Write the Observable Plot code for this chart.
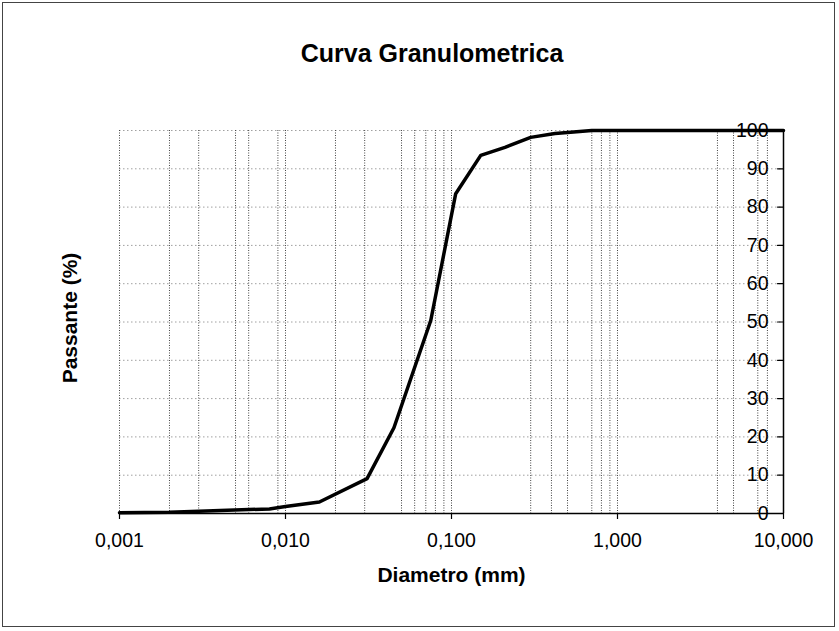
<!DOCTYPE html>
<html>
<head>
<meta charset="utf-8">
<script src="https://cdn.jsdelivr.net/npm/d3@7"></script>
<script src="https://cdn.jsdelivr.net/npm/@observablehq/plot@0.6"></script>
<style>
  html, body { margin: 0; padding: 0; background: #fff; }
  #wrap { position: relative; width: 839px; height: 631px; overflow: hidden; font-family: "Liberation Sans", Arial, sans-serif; }
  #border { position: absolute; left: 2px; top: 2px; width: 833px; height: 625px; border: 1px solid #444; box-sizing: border-box; pointer-events: none; }
  #title { position: absolute; left: 0; width: 864px; top: 39px; text-align: center; font-weight: bold; font-size: 25px; color: #000; }
  #chart { position: absolute; left: 0; top: 0; }
</style>
</head>
<body>
<div id="wrap">
  <div id="chart"></div>
  <div id="title">Curva Granulometrica</div>
  <div id="border"></div>
</div>
<script>
// Data
const diameter = [0.001, 0.002, 0.003, 0.008, 0.01, 0.016, 0.031, 0.045, 0.075, 0.106, 0.15, 0.21, 0.3, 0.42, 0.5, 0.7, 10];
const passing  = [0.2,   0.3,   0.6,   1.2,   1.8,  3.0,   9.1,   22.4,  50.4,  83.5,  93.5, 95.6, 98.2, 99.2, 99.5, 100, 100];

const xDomain = [0.001, 10];
const yDomain = [0, 100];
const xTicks = [0.001, 0.01, 0.1, 1, 10];
const xTickLabels = ["0,001", "0,010", "0,100", "1,000", "10,000"];
const yTicks = [0, 10, 20, 30, 40, 50, 60, 70, 80, 90, 100];
const xGridVisible = [0.001, 0.002, 0.003, 0.005, 0.006, 0.009, 0.01, 0.02, 0.03, 0.05, 0.06, 0.07, 0.08, 0.09, 0.1, 0.3, 0.4, 0.5, 0.7, 0.8, 0.9, 1, 4, 5, 7, 8];
const yGrid = [10, 20, 30, 40, 50, 60, 70, 80, 90, 100];

const xLabel = "Diametro (mm)";
const yLabel = "Passante (%)";

const data = diameter.map((d, i) => ({d, p: passing[i]}));
const labelOf = new Map(xTicks.map((t, i) => [t, xTickLabels[i]]));

const chart = Plot.plot({
  width: 839,
  height: 631,
  marginLeft: 119,
  marginRight: 56,
  marginTop: 130,
  marginBottom: 118,
  style: {fontFamily: "'Liberation Sans', Arial, sans-serif", background: "transparent", color: "#000"},
  x: {type: "log", domain: xDomain},
  y: {domain: yDomain},
  marks: [
    Plot.ruleY(yGrid, {stroke: "#a0a0a0", strokeDasharray: "1.5,2.5", strokeWidth: 1}),
    Plot.ruleX(xGridVisible, {stroke: "#444", strokeDasharray: "1,1.5", strokeWidth: 1}),
    Plot.ruleY([yDomain[0]], {stroke: "#000", strokeWidth: 1.5}),
    Plot.ruleX([xDomain[1]], {stroke: "#000", strokeWidth: 1.5}),
    Plot.axisX({ticks: xTicks, tickFormat: d => labelOf.get(d), tickSize: 6, tickPadding: 14, fontSize: 19.5, label: null, stroke: "#000", strokeWidth: 1.2}),
    Plot.vector(yTicks, {x: () => xDomain[1], y: d => d, length: 6, anchor: "start", stroke: "#000", strokeWidth: 1.2, shape: {draw(ctx, l) { ctx.moveTo(0, 0); ctx.lineTo(-l, 0); }}}),
    Plot.axisY({anchor: "right", ticks: yTicks, tickSize: 0, tickPadding: 0, textAnchor: "end", dx: -15, fontSize: 19.5, label: null}),
    Plot.line(data, {x: "d", y: "p", stroke: "#000", strokeWidth: 3.5, strokeLinejoin: "round"}),
    Plot.text([xLabel], {frameAnchor: "bottom", dy: 68, fontSize: 21, fontWeight: "bold", text: d => d}),
    Plot.text([yLabel], {frameAnchor: "left", textAnchor: "middle", dx: -49, dy: -4, rotate: -90, fontSize: 21, fontWeight: "bold", text: d => d})
  ]
});
document.getElementById("chart").appendChild(chart);
</script>
</body>
</html>
